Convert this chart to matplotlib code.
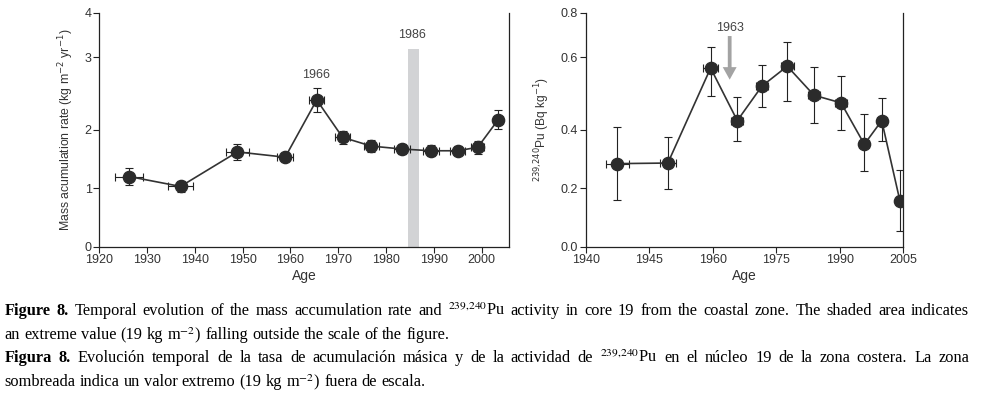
import numpy as np
import matplotlib
matplotlib.use("Agg")
import matplotlib.pyplot as plt

plt.rcParams['font.family'] = ['Liberation Sans Narrow', 'Liberation Sans', 'DejaVu Sans']
plt.rcParams['mathtext.fontset'] = 'custom'
plt.rcParams['mathtext.rm'] = 'Liberation Sans Narrow'
plt.rcParams['mathtext.it'] = 'Liberation Sans Narrow:italic'
plt.rcParams['mathtext.bf'] = 'Liberation Sans Narrow:bold'

# ---- left panel: mass accumulation rate ----
age_mar = [1926.2, 1937.0, 1948.9, 1958.9, 1965.5, 1970.9, 1976.9, 1983.3, 1989.4, 1995.0, 1999.2, 2003.5]
age_mar_err = [3.0, 2.6, 2.4, 1.7, 1.6, 1.5, 1.6, 1.7, 1.7, 1.6, 1.4, 1.0]
mar = [1.20, 1.03, 1.62, 1.53, 2.41, 1.87, 1.72, 1.67, 1.64, 1.64, 1.70, 2.14]
mar_err = [0.15, 0.09, 0.14, 0.07, 0.16, 0.11, 0.10, 0.09, 0.09, 0.08, 0.11, 0.13]
mar_ticks = [0, 1, 2, 3, 4]
mar_xticks = [1920, 1930, 1940, 1950, 1960, 1970, 1980, 1990, 2000]
band_year = 1985.75
band_width = 2.3
band_top = 3.19

# ---- right panel: 239,240Pu ----
age_pu = [1937.5, 1949.4, 1959.5, 1965.8, 1971.6, 1977.6, 1983.9, 1990.3, 1995.8, 1999.9, 2004.2]
age_pu_err = [2.7, 1.9, 1.7, 1.4, 1.4, 1.5, 1.4, 1.4, 1.2, 1.2, 1.0]
pu = [0.284, 0.286, 0.570, 0.425, 0.520, 0.575, 0.495, 0.474, 0.350, 0.425, 0.157]
pu_err = [0.123, 0.089, 0.077, 0.065, 0.058, 0.095, 0.077, 0.074, 0.092, 0.063, 0.104]
pu_ticks = [0.0, 0.2, 0.4, 0.6, 0.8]
pu_xticks = [1930, 1945, 1960, 1975, 1990, 2005]
pu_xticklabels = ['1940', '1945', '1960', '1975', '1990', '2005']

# the printed y axes are not evenly spaced: the 3rd tick sits higher
tick_pos = [0, 1, 2, 3.24, 4]


def stretched(ticks):
    step = ticks[1] - ticks[0]
    t = np.array([-1000.0] + list(ticks) + [1000.0])
    p = np.array([-1000.0] + [v * step for v in tick_pos] + [1000.0])
    return (lambda v: np.interp(v, t, p)), (lambda v: np.interp(v, p, t))


dark = '#2b2b2b'
fig = plt.figure(figsize=(9.81, 3.99), dpi=100)
ax1 = fig.add_axes([99.3 / 981, 1 - 246.7 / 399, 410 / 981, 234 / 399])
ax2 = fig.add_axes([585.7 / 981, 1 - 246.7 / 399, 317.6 / 981, 234 / 399])

for ax in (ax1, ax2):
    ax.spines['top'].set_visible(False)
    for s in ('left', 'right', 'bottom'):
        ax.spines[s].set_linewidth(0.9)
        ax.spines[s].set_color('#222222')
    ax.tick_params(direction='out', length=4.5, width=0.8, color='#222222',
                   labelsize=9, labelcolor='#333333', pad=1)
    ax.set_xlabel('Age', fontsize=10, color='#333333', labelpad=2)

# left
ax1.set_yscale('function', functions=stretched(mar_ticks))
ax1.bar(band_year, band_top, width=band_width, color='#d2d3d5', zorder=1)
ax1.errorbar(age_mar, mar, yerr=mar_err, xerr=age_mar_err, fmt='o-', color='#333333',
             lw=1.2, ms=8.8, mfc=dark, mec=dark, ecolor='#222222', elinewidth=0.8,
             capsize=3, capthick=0.8, zorder=3)
ax1.set_xlim(1920, 2005.8)
ax1.set_ylim(0, 4)
ax1.set_xticks(mar_xticks)
ax1.set_yticks(mar_ticks)
ax1.set_ylabel('Mass acumulation rate (kg m$^{-2}$ yr$^{-1}$)', fontsize=8.8,
               color='#333333', labelpad=6)
ax1.text(1965.3, 2.76, '1966', ha='center', va='center', fontsize=9, color='#444444')
ax1.text(1985.4, 3.50, '1986', ha='center', va='center', fontsize=9, color='#444444')

# right
ax2.set_yscale('function', functions=stretched(pu_ticks))
ax2.errorbar(age_pu, pu, yerr=pu_err, xerr=age_pu_err, fmt='o-', color='#333333',
             lw=1.2, ms=8.8, mfc=dark, mec=dark, ecolor='#222222', elinewidth=0.8,
             capsize=3, capthick=0.8, zorder=3)
ax2.set_xlim(1930, 2005)
ax2.set_ylim(0, 0.8)
ax2.set_xticks(pu_xticks)
ax2.set_xticklabels(pu_xticklabels)
ax2.set_yticks(pu_ticks)
ax2.set_yticklabels(['%.1f' % v for v in pu_ticks])
ax2.set_ylabel('$^{239{,}240}$Pu (Bq kg$^{-1}$)', fontsize=8.6, color='#333333', labelpad=6)
ax2.annotate('', xy=(1964.0, 0.538), xytext=(1964.0, 0.695),
             arrowprops=dict(facecolor='#a3a3a3', edgecolor='none', width=2.7,
                             headwidth=10, headlength=9, shrink=0))
ax2.text(1964.0, 0.729, '1963', ha='center', va='center', fontsize=9, color='#444444')

# ---- caption (justified like the printed page) ----
cap_lines = [
    ('Figure 8.', 'Temporal evolution of the mass accumulation rate and $^{239{,}240}$Pu activity '
     'in core 19 from the coastal zone. The shaded area indicates', True),
    ('', 'an extreme value (19 kg m$^{-2}$) falling outside the scale of the figure.', False),
    ('Figura 8.', 'Evolución temporal de la tasa de acumulación másica y de la actividad de '
     '$^{239{,}240}$Pu en el núcleo 19 de la zona costera. La zona', True),
    ('', 'sombreada indica un valor extremo (19 kg m$^{-2}$) fuera de escala.', False),
]
cap_base = [315, 339, 362, 386]
cap_size = 11.8
x_left, x_right = 4.5, 969.0
renderer = fig.canvas.get_renderer()
space = 0.25 * cap_size * 100 / 72
for (bold, rest, justify), yb in zip(cap_lines, cap_base):
    words = [(w, 'bold') for w in bold.split()] + [(w, 'normal') for w in rest.split()]
    texts = []
    for w, weight in words:
        t = fig.text(0, 1 - yb / 399, w, family=['Liberation Serif', 'DejaVu Serif'],
                     fontsize=cap_size, fontweight=weight, va='baseline', ha='left',
                     math_fontfamily='stix', color='black')
        texts.append(t)
    widths = [t.get_window_extent(renderer).width for t in texts]
    gap = (x_right - x_left - sum(widths)) / (len(texts) - 1) if justify else space
    x = x_left
    for t, w in zip(texts, widths):
        t.set_x(x / 981)
        x += w + gap

fig.savefig('out.png', dpi=100)
